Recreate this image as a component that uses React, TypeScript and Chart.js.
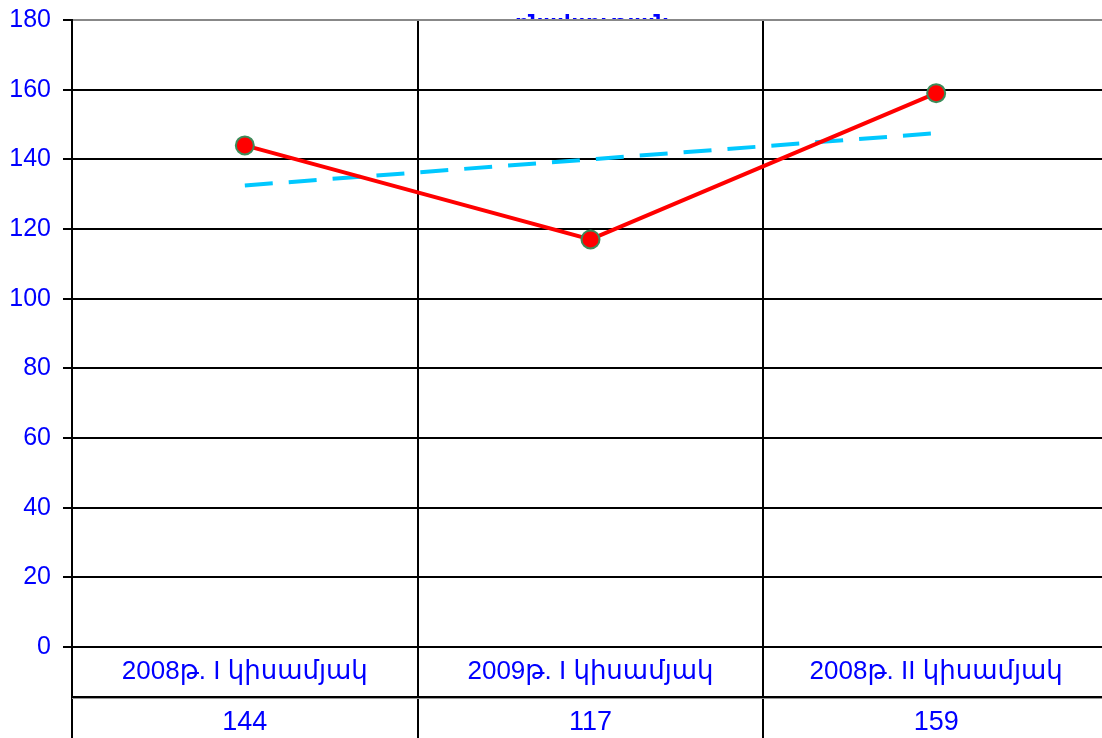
import React, { useEffect, useRef } from "react";
import { Chart, registerables } from "chart.js";

Chart.register(...registerables);

const categories = ["2008թ. I կիսամյակ", "2009թ. I կիսամյակ", "2008թ. II կիսամյակ"];
const values = [144, 117, 159];
const trendValues = [132.5, 140, 147.5];
const tableValues = ["144", "117", "159"];
const titleFragment = "բնակչության";

const FONT = "'Liberation Sans', 'DejaVu Sans', Arial, sans-serif";
const BLUE = "#0000FF";

const tablePlugin = {
  id: "dataTable",
  beforeDraw(chart: any) {
    const { ctx, chartArea } = chart;
    ctx.save();
    ctx.beginPath();
    ctx.rect(0, 0, chart.width, chartArea.top - 1);
    ctx.clip();
    ctx.fillStyle = BLUE;
    ctx.font = `bold 22px ${FONT}`;
    ctx.textAlign = "center";
    ctx.textBaseline = "alphabetic";
    ctx.fillText(titleFragment, 592, 30);
    ctx.restore();
  },
  afterDraw(chart: any) {
    const { ctx, chartArea } = chart;
    const xs = chart.scales.x;
    const n = categories.length;
    const w = (chartArea.right - chartArea.left) / n;
    ctx.save();
    ctx.strokeStyle = "#000";
    ctx.lineWidth = 2;
    for (let i = 0; i <= n; i++) {
      const x = Math.round(chartArea.left + i * w);
      ctx.beginPath();
      ctx.moveTo(x, chartArea.bottom);
      ctx.lineTo(x, chart.height);
      ctx.stroke();
    }
    const sepY = chartArea.bottom + 50;
    ctx.beginPath();
    ctx.moveTo(chartArea.left, sepY);
    ctx.lineTo(chart.width, sepY);
    ctx.stroke();
    ctx.strokeStyle = "#999";
    ctx.lineWidth = 1;
    ctx.beginPath();
    ctx.moveTo(chartArea.left, sepY + 1.5);
    ctx.lineTo(chart.width, sepY + 1.5);
    ctx.stroke();
    ctx.strokeStyle = "#000";
    ctx.lineWidth = 2;
    ctx.beginPath();
    ctx.moveTo(chartArea.left - 9, chartArea.bottom);
    ctx.lineTo(chart.width, chartArea.bottom);
    ctx.stroke();
    ctx.fillStyle = BLUE;
    ctx.textAlign = "center";
    ctx.textBaseline = "middle";
    for (let i = 0; i < n; i++) {
      const cx = xs.getPixelForTick(i);
      ctx.font = `26px ${FONT}`;
      ctx.fillText(categories[i], cx, chartArea.bottom + 25);
      ctx.font = `27px ${FONT}`;
      ctx.fillText(tableValues[i], cx, chartArea.bottom + 76);
    }
    ctx.restore();
  },
};

export default function App() {
  const ref = useRef<HTMLCanvasElement | null>(null);
  useEffect(() => {
    document.body.style.margin = "0";
    document.body.style.overflow = "hidden";
    const canvas = ref.current!;
    const chart = new Chart(canvas, {
      type: "line",
      data: {
        labels: categories,
        datasets: [
          {
            data: values,
            borderColor: "#FF0000",
            borderWidth: 4,
            pointRadius: 9,
            pointBackgroundColor: "#FF0000",
            pointBorderColor: "#3C8C5A",
            pointBorderWidth: 2,
            tension: 0,
            order: 1,
          },
          {
            data: trendValues,
            borderColor: "#00C8FF",
            borderWidth: 4,
            borderDash: [28, 16],
            pointRadius: 0,
            tension: 0,
            order: 2,
          },
        ],
      },
      options: {
        responsive: false,
        animation: false,
        devicePixelRatio: 1,
        layout: { padding: { top: 20, right: 10, bottom: 91, left: 0 } },
        plugins: { legend: { display: false }, tooltip: { enabled: false }, title: { display: false } },
        scales: {
          x: {
            type: "category",
            offset: true,
            grid: { offset: true, color: "#000", lineWidth: 2, drawTicks: false },
            ticks: { display: false },
            border: { display: false },
            afterFit: (s: any) => {
              s.height = 0;
              s.paddingLeft = 0;
              s.paddingRight = 0;
            },
          },
          y: {
            min: 0,
            max: 180,
            ticks: {
              stepSize: 20,
              color: BLUE,
              font: { family: FONT, size: 25 },
              padding: 12,
            },
            grid: {
              color: (c: any) => (c.tick && c.tick.value === 180 ? "#888" : "#000"),
              lineWidth: 2,
              tickLength: 9,
              tickColor: "#000",
            },
            border: { display: true, color: "#000", width: 2 },
            afterFit: (s: any) => {
              s.width = 72;
              s.paddingTop = 0;
              s.paddingBottom = 0;
            },
          },
        },
      },
      plugins: [tablePlugin],
    });
    return () => chart.destroy();
  }, []);
  return (
    <div style={{ position: "fixed", left: 0, top: 0, width: 1102, height: 738, overflow: "hidden", background: "#fff" }}>
      <canvas ref={ref} width={1120} height={738} style={{ width: 1120, height: 738, display: "block" }} />
    </div>
  );
}
